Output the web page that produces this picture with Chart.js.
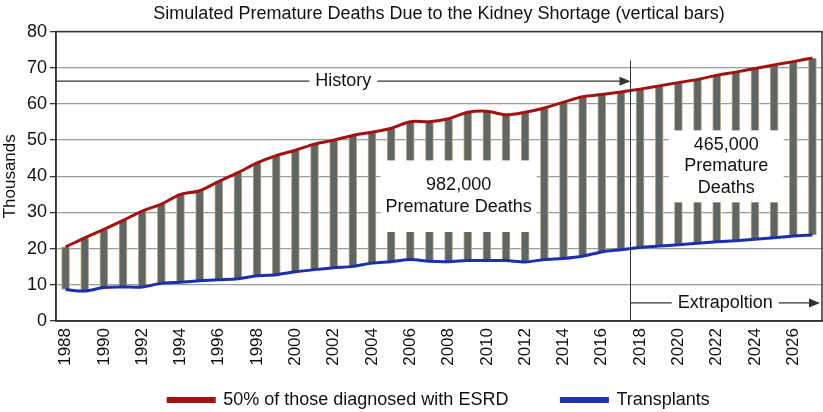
<!DOCTYPE html>
<html>
<head>
<meta charset="utf-8">
<script src="https://cdn.jsdelivr.net/npm/chart.js@4/dist/chart.umd.min.js"></script>
<style>
  html, body { margin: 0; padding: 0; background: #fff; }
  #chart { display: block; }
</style>
</head>
<body>
<canvas id="chart" width="823" height="412"></canvas>
<script>
/* Data (thousands) */
let years = ['1988', '1989', '1990', '1991', '1992', '1993', '1994', '1995', '1996', '1997',
             '1998', '1999', '2000', '2001', '2002', '2003', '2004', '2005', '2006', '2007',
             '2008', '2009', '2010', '2011', '2012', '2013', '2014', '2015', '2016', '2017',
             '2018', '2019', '2020', '2021', '2022', '2023', '2024', '2025', '2026', '2027']

// 50% of those diagnosed with ESRD
let esrd = [20.5, 23.0, 25.3, 27.8, 30.4, 32.3, 35.0, 36.0, 38.6, 41.0,
            43.7, 45.7, 47.2, 48.9, 50.0, 51.3, 52.2, 53.3, 55.1, 55.1,
            55.9, 57.7, 58.0, 57.0, 57.7, 58.9, 60.5, 62.0, 62.6, 63.3,
            64.1, 65.0, 65.9, 66.8, 67.9, 68.8, 69.8, 70.8, 71.7, 72.7]

// Transplants
let transplants = [8.7, 8.3, 9.25, 9.4, 9.4, 10.4, 10.7, 11.1, 11.4, 11.7,
                   12.5, 12.8, 13.6, 14.2, 14.7, 15.1, 16.0, 16.4, 17.0, 16.5,
                   16.4, 16.7, 16.7, 16.7, 16.3, 17.0, 17.3, 17.9, 19.1, 19.7,
                   20.3, 20.7, 21.1, 21.5, 21.9, 22.2, 22.6, 23.0, 23.5, 23.8]

let yTicks = [0, 10, 20, 30, 40, 50, 60, 70, 80]

let titleText = 'Simulated Premature Deaths Due to the Kidney Shortage (vertical bars)'
let fontFamily = '"Liberation Sans", Arial, Helvetica, sans-serif'
let dark = '#333333'

// floating bars go from transplants up to the ESRD line
let gapBars = years.map(function(y, i) { return [transplants[i], esrd[i]] })

// white boxes with text, and the history / extrapolation markers
let notesPlugin = {
    id: 'notes',
    afterDatasetsDraw: function(chart) {
        let ctx = chart.ctx
        let x = chart.scales.x
        let y = chart.scales.y
        let area = chart.chartArea
        let split = x.getPixelForValue(29.5)

        ctx.save()
        ctx.font = '18px ' + fontFamily
        ctx.textAlign = 'center'
        ctx.textBaseline = 'middle'

        let boxes = [
            { from: 16.45, to: 24.6, top: 44.4, bottom: 24.6, lines: ['982,000', 'Premature Deaths'] },
            { from: 31.5, to: 37.5, top: 52.7, bottom: 32.8, lines: ['465,000', 'Premature', 'Deaths'] }
        ]
        boxes.forEach(function(b) {
            let left = x.getPixelForValue(b.from)
            let right = x.getPixelForValue(b.to)
            let top = y.getPixelForValue(b.top)
            let bottom = y.getPixelForValue(b.bottom)
            ctx.fillStyle = '#ffffff'
            ctx.fillRect(left, top, right - left, bottom - top)
            ctx.fillStyle = '#111111'
            let mid = (top + bottom) / 2
            let lh = 21.5
            b.lines.forEach(function(t, k) {
                ctx.fillText(t, (left + right) / 2, mid + (k - (b.lines.length - 1) / 2) * lh)
            })
        })

        // divider between history and extrapolation
        ctx.strokeStyle = dark
        ctx.lineWidth = 1
        ctx.beginPath()
        ctx.moveTo(split, y.getPixelForValue(72))
        ctx.lineTo(split, area.bottom)
        ctx.stroke()

        function arrow(x1, x2, yy, label) {
            let w = ctx.measureText(label).width + 12
            let cx = (x1 + x2) / 2
            ctx.strokeStyle = dark
            ctx.fillStyle = dark
            ctx.lineWidth = 1.2
            ctx.beginPath()
            ctx.moveTo(x1, yy)
            ctx.lineTo(cx - w / 2, yy)
            ctx.moveTo(cx + w / 2, yy)
            ctx.lineTo(x2 - 8, yy)
            ctx.stroke()
            ctx.beginPath()
            ctx.moveTo(x2, yy)
            ctx.lineTo(x2 - 11, yy - 4.5)
            ctx.lineTo(x2 - 11, yy + 4.5)
            ctx.closePath()
            ctx.fill()
            ctx.fillStyle = '#111111'
            ctx.fillText(label, cx, yy)
        }
        arrow(area.left, split, y.getPixelForValue(66.3), 'History')
        arrow(split, area.right - 2, y.getPixelForValue(5), 'Extrapoltion')

        // frame round the plot
        ctx.strokeStyle = dark
        ctx.lineWidth = 1.5
        ctx.strokeRect(area.left, area.top, area.right - area.left, area.bottom - area.top)
        ctx.restore()
    }
}

let ctx = document.querySelector('#chart').getContext('2d')

let chart = new Chart(ctx, {
    data: {
        labels: years,
        datasets: [
            {
                type: 'line',
                // trailing spaces widen the gap to the next legend item
                label: '50% of those diagnosed with ESRD          ',
                data: esrd,
                borderColor: '#a31111',
                backgroundColor: '#a31111',
                borderWidth: 3,
                pointRadius: 0,
                tension: 0.3,
                order: 1
            },
            {
                type: 'line',
                label: 'Transplants',
                data: transplants,
                borderColor: '#1b2fb0',
                backgroundColor: '#1b2fb0',
                borderWidth: 3,
                pointRadius: 0,
                tension: 0.3,
                order: 1
            },
            {
                type: 'bar',
                label: 'gap',
                data: gapBars,
                backgroundColor: '#5c6766',
                borderColor: '#cfa878',
                borderWidth: 1,
                borderSkipped: false,
                barThickness: 8,
                order: 2
            }
        ]
    },
    options: {
        responsive: false,
        animation: false,
        // legend sits close to the bottom edge, so let it run past it a little
        layout: { padding: { right: 1, bottom: -7 } },
        plugins: {
            title: {
                display: true,
                text: titleText,
                fullSize: false,
                color: '#111111',
                font: { family: fontFamily, size: 18, weight: 'normal' },
                padding: { top: 3, bottom: 7 }
            },
            legend: {
                position: 'bottom',
                fullSize: false,
                labels: {
                    filter: function(item) { return item.text !== 'gap' },
                    boxWidth: 46,
                    boxHeight: 3,
                    padding: 3,
                    color: '#111111',
                    font: { family: fontFamily, size: 18 }
                }
            },
            tooltip: { enabled: false }
        },
        scales: {
            x: {
                offset: true,
                grid: { display: false, drawTicks: false },
                border: { color: dark, width: 1.5 },
                ticks: {
                    autoSkip: false,
                    minRotation: 90,
                    maxRotation: 90,
                    padding: 7,
                    color: '#111111',
                    font: { family: fontFamily, size: 17 },
                    callback: function(v, i) { return i % 2 === 0 ? years[i] : '' }
                },
                afterFit: function(scale) {
                    scale.height = 67
                    scale.paddingLeft = 0
                    scale.paddingRight = 0
                }
            },
            y: {
                min: 0,
                max: 80,
                afterBuildTicks: function(scale) {
                    scale.ticks = yTicks.map(function(v) { return { value: v } })
                },
                grid: { color: '#939e9e', lineWidth: 1.3, tickColor: dark, tickLength: 6 },
                border: { color: dark, width: 1.5 },
                ticks: {
                    padding: 3,
                    color: '#111111',
                    font: { family: fontFamily, size: 18 }
                },
                title: {
                    display: true,
                    text: 'Thousands',
                    color: '#111111',
                    font: { family: fontFamily, size: 17 },
                    padding: { top: 0, bottom: 0 }
                },
                afterFit: function(scale) { scale.width = 56 }
            }
        }
    },
    plugins: [notesPlugin]
})
</script>
</body>
</html>
